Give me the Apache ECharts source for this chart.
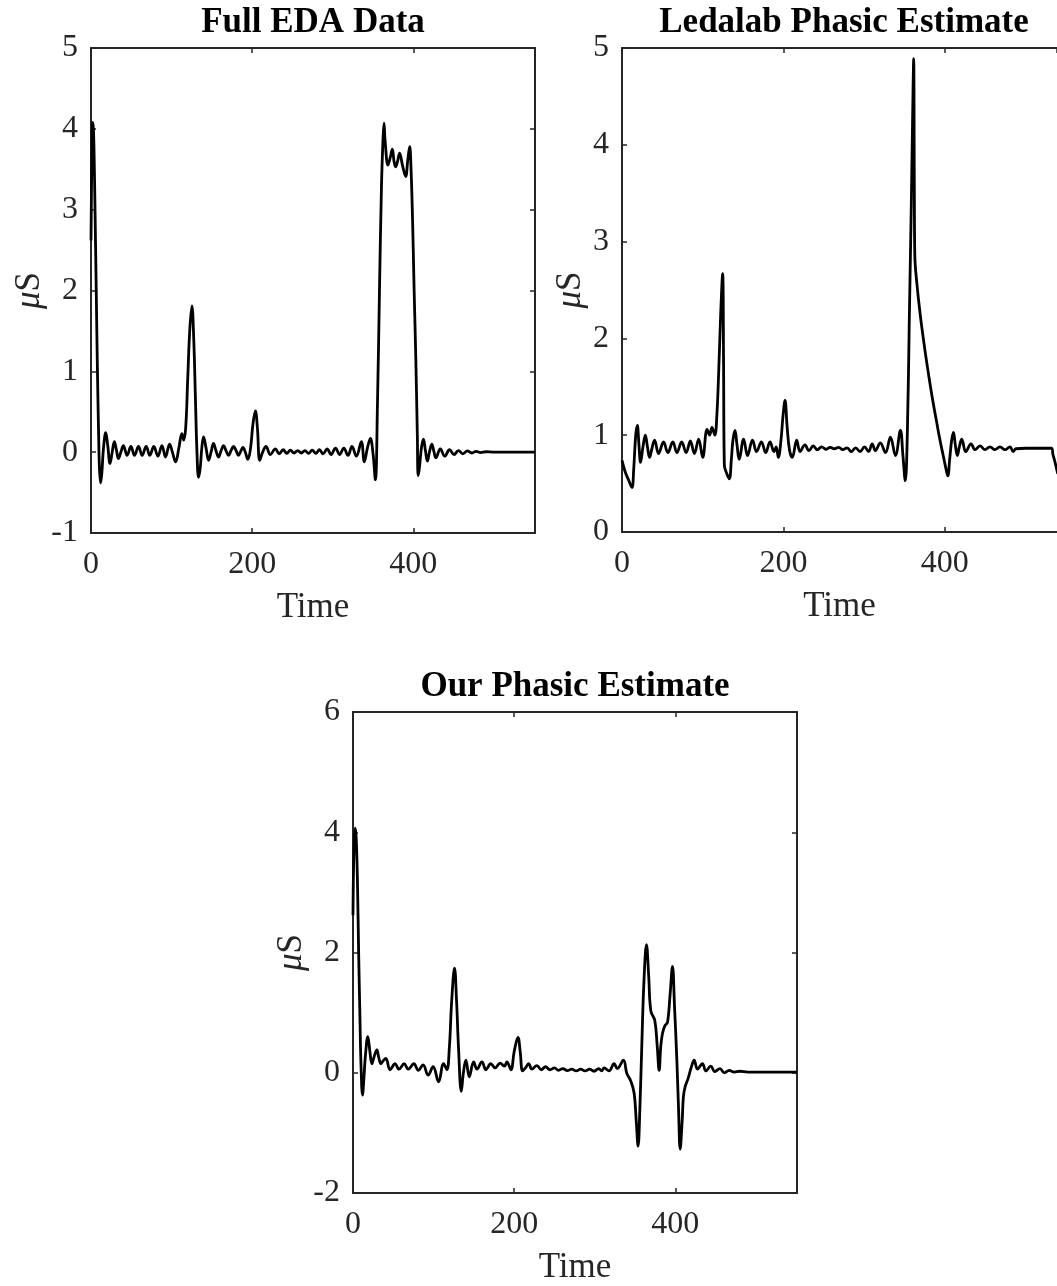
<!DOCTYPE html>
<html><head><meta charset="utf-8">
<script src="https://cdn.jsdelivr.net/npm/echarts@6/dist/echarts.min.js"></script>
<style>html,body{margin:0;padding:0;background:#fff}#c{width:1057px;height:1286px}</style>
</head><body><div id="c"></div>
<script>
// ---- data (time, µS) ----
const panelTitles = ['Full EDA Data', 'Ledalab Phasic Estimate', 'Our Phasic Estimate'];
const xTickValues = [0, 200, 400];
const yRange1 = [-1, 5, 1];
const yRange2 = [0, 5, 1];
const yRange3 = [-2, 6, 2];
const xMaxes = [551, 539, 551];   // panel 2 is cut off by the right edge of the figure

const fullEdaData = [[0,2.62],[1,3.6],[2,4.08],[3,4.0],[4,3.6],[5,3.0],[6.5,2.0],[8,1.0],[9.5,0.2],[10.5,-0.2],[12,-0.38],[13.5,-0.25],[15.5,0.05],[18.3,0.24],[20.8,0.08],[23.6,-0.14],[26.3,0.0],[29,0.13],[31.5,0.03],[34,-0.08],[37,0.0],[40.2,0.08],[44.8,-0.04],[49.5,0.07],[54,-0.04],[59,0.07],[63.5,-0.04],[68.5,0.07],[73,-0.04],[78,0.07],[83,-0.05],[88,0.08],[92.5,-0.06],[97.5,0.1],[101,0.0],[105,-0.12],[109,0.05],[112.8,0.23],[115,0.15],[117.5,0.3],[120,0.9],[122.5,1.5],[125.2,1.81],[127.5,1.4],[129.5,0.7],[131.5,0.0],[133.5,-0.31],[135.5,-0.2],[137.5,0.05],[139.7,0.19],[142.8,0.05],[145.9,-0.1],[149,0.0],[152,0.11],[155,0.02],[158.3,-0.06],[161.5,0.02],[164.5,0.08],[167.5,0.02],[170.7,-0.04],[173.8,0.02],[176.9,0.07],[180,0.02],[183,-0.04],[185.8,0.01],[188.5,0.06],[191.5,0.0],[194.7,-0.09],[198,0.05],[201,0.35],[204,0.51],[206.5,0.3],[209.4,-0.1],[213,0.0],[217.2,0.07],[222.6,-0.03],[228.8,0.04],[233.6,-0.02],[238.5,0.03],[243,-0.015],[247.5,0.025],[252,-0.01],[256.5,0.02],[261,-0.01],[265.5,0.02],[270,-0.015],[274.5,0.025],[279,-0.015],[283.5,0.03],[288,-0.02],[293,0.04],[298,-0.03],[303.4,0.05],[308.5,-0.03],[313.8,0.05],[318.9,-0.04],[323.9,0.07],[329.3,-0.05],[335.5,0.13],[339.2,-0.12],[343,0.05],[346.7,0.17],[349.8,0.0],[352.9,-0.34],[355.5,0.6],[358,2.0],[360.5,3.3],[362.5,3.9],[363.6,4.07],[365,3.85],[368.6,3.55],[371.5,3.65],[374,3.75],[376,3.6],[378,3.53],[380.5,3.6],[383,3.7],[386.5,3.55],[390.5,3.41],[393,3.6],[395.5,3.78],[397,3.55],[399,2.9],[401,2.0],[403,1.2],[405,0.2],[406,-0.29],[407.5,-0.2],[410,0.05],[412.5,0.16],[415,0.02],[417.5,-0.11],[420,0.0],[423,0.1],[425.5,0.01],[428,-0.07],[433.5,0.04],[439,-0.05],[445,0.03],[450.5,-0.03],[456,0.02],[461.5,-0.02],[467,0.015],[472.5,-0.01],[478,0.01],[483.5,-0.005],[490,0.005],[500,0],[551,0]];

const ledalabData = [[0,0.74],[4,0.62],[8,0.54],[12.3,0.46],[14.5,0.65],[17,1.0],[19,1.1],[21,0.9],[23,0.72],[26,0.88],[28.9,1.0],[31.5,0.88],[34.2,0.77],[37,0.86],[40.4,0.95],[45.3,0.81],[51.5,0.93],[56.8,0.82],[63,0.93],[68,0.82],[74,0.93],[79.5,0.82],[84.7,0.94],[89.7,0.81],[95,0.96],[100,0.77],[105.4,1.06],[108.5,1.0],[111.5,1.08],[115,1.0],[117.5,1.2],[120,1.7],[122.5,2.3],[124.7,2.67],[125.8,1.8],[126.8,0.69],[130,0.6],[133,0.55],[135.5,0.75],[137.5,0.95],[140,1.05],[142.5,0.9],[145.3,0.75],[150.7,0.96],[155.6,0.79],[161.7,0.95],[166.7,0.83],[172.8,0.93],[178,0.82],[183.4,0.93],[188.3,0.83],[191,0.88],[193.7,0.77],[197,0.95],[199.5,1.2],[202,1.36],[204.5,1.1],[207.5,0.85],[211,0.77],[216.5,0.95],[220.6,0.83],[226.7,0.9],[231.7,0.84],[237,0.89],[242,0.85],[247.5,0.88],[252.5,0.855],[258,0.875],[263,0.86],[268.5,0.875],[273.5,0.85],[279,0.87],[284,0.83],[289.5,0.87],[295,0.83],[300.5,0.88],[305.5,0.83],[310,0.91],[314,0.84],[320,0.92],[326.5,0.82],[332.6,0.98],[338.8,0.79],[345,1.05],[348,0.8],[351,0.53],[353.5,1.0],[356,2.2],[358.5,3.4],[360.5,4.5],[361.4,4.89],[362.2,3.6],[362.8,2.86],[365,2.6],[369.6,2.24],[375,1.9],[380,1.62],[385,1.36],[390,1.13],[394,0.95],[398,0.79],[401,0.67],[403.7,0.58],[406,0.75],[408.5,0.95],[410.7,1.03],[413,0.9],[415.6,0.79],[418,0.88],[421,0.96],[426,0.83],[432.5,0.91],[437.5,0.85],[443.6,0.89],[449.8,0.85],[456,0.88],[462,0.85],[468.3,0.88],[474.5,0.85],[480.6,0.88],[484.7,0.83],[488,0.86],[500,0.865],[520,0.865],[532,0.865],[534,0.8],[536.6,0.72],[540,0.6]];

const ourData = [[0,2.62],[1,3.6],[2.7,4.07],[4,3.9],[5.5,3.2],[7,2.0],[8.5,1.0],[10,0.1],[11.8,-0.37],[13.5,-0.1],[15.5,0.3],[18.4,0.6],[21,0.35],[23.4,0.15],[26.5,0.28],[29.6,0.38],[32,0.25],[34.6,0.15],[37.5,0.2],[40.8,0.24],[46,0.05],[52.2,0.15],[57,0.06],[63.6,0.15],[68.5,0.06],[75.5,0.15],[81,0.04],[87,0.13],[93.2,-0.04],[99.4,0.1],[106.2,-0.15],[112.4,0.15],[116.5,0.05],[119.5,0.4],[122.5,1.2],[126,1.74],[128.5,1.2],[131,0.4],[134.4,-0.31],[137,0.0],[140.1,0.21],[144.3,-0.07],[149.7,0.18],[153.8,0.06],[160,0.18],[165,0.05],[171,0.15],[176.4,0.08],[182.6,0.16],[188,0.11],[191,0.18],[196,0.05],[200,0.35],[204.7,0.59],[207.5,0.35],[210.5,0.03],[214,0.08],[218,0.15],[222,0.06],[228.2,0.12],[233.6,0.05],[239,0.1],[244.5,0.05],[250,0.08],[255,0.04],[260.5,0.07],[266,0.035],[271.5,0.06],[277,0.03],[282.5,0.06],[288,0.03],[293.5,0.06],[299,0.025],[305,0.07],[308.5,0.03],[311.6,0.08],[317.8,0.03],[324,0.15],[328,0.07],[335.6,0.21],[339.8,-0.01],[344.8,-0.14],[348.9,-0.34],[351.5,-0.8],[353.8,-1.22],[356,-0.6],[358.5,0.5],[361,1.5],[364.2,2.13],[367,1.6],[369.6,1.03],[374.5,0.87],[377.5,0.45],[379.9,0.04],[382,0.45],[384,0.65],[387,0.78],[390.3,0.84],[393.5,1.3],[396.5,1.77],[399,1.1],[401.9,0.21],[404,-0.6],[406,-1.27],[408.5,-0.8],[410,-0.4],[412.2,-0.23],[416,-0.09],[420,0.1],[423.4,0.21],[427.5,0.06],[433.7,0.15],[437.9,0.03],[444,0.11],[449,0.02],[455.4,0.07],[460.7,0.0],[467,0.04],[473,0.01],[480,0.025],[490,0.01],[551,0.01]];

// ---- chart ----
const FONT = '"Liberation Serif","Times New Roman",serif';
const AX = '#262626';
const grids = [
  {left: 91, top: 48, width: 444, height: 485},
  {left: 622, top: 48, width: 435, height: 484},
  {left: 353, top: 712, width: 444, height: 485}
];
const yRanges = [yRange1, yRange2, yRange3];
const nameGaps = [37, 34, 44];
const showRight = [true, false, true];
const datasets = [fullEdaData, ledalabData, ourData];

const xAxis = [], yAxis = [], series = [];
grids.forEach((g, i) => {
  const common = {
    gridIndex: i, type: 'value', min: 0, max: xMaxes[i], interval: 200,
    axisLine: {show: true, onZero: false, lineStyle: {color: AX, width: 2}},
    axisTick: {show: true, inside: true, length: 5, lineStyle: {color: AX, width: 1.5}},
    splitLine: {show: false}
  };
  xAxis.push(Object.assign({}, common, {
    position: 'bottom',
    name: 'Time', nameLocation: 'middle', nameGap: 57,
    nameTextStyle: {fontFamily: FONT, fontSize: 35, color: AX},
    axisLabel: {show: true, margin: 16, fontFamily: FONT, fontSize: 32, color: AX, showMaxLabel: false,
      formatter: v => (xTickValues.indexOf(v) >= 0 ? String(v) : '')}
  }));
  xAxis.push(Object.assign({}, common, {position: 'top', axisLabel: {show: false}}));
  const r = yRanges[i];
  const ycommon = {
    gridIndex: i, type: 'value', min: r[0], max: r[1], interval: r[2],
    axisLine: {show: true, onZero: false, lineStyle: {color: AX, width: 2}},
    axisTick: {show: true, inside: true, length: 5, lineStyle: {color: AX, width: 1.5}},
    splitLine: {show: false}
  };
  yAxis.push(Object.assign({}, ycommon, {
    position: 'left',
    name: '{i|μ}S', nameLocation: 'middle', nameGap: nameGaps[i],
    nameTextStyle: {fontFamily: FONT, fontSize: 35, color: AX,
      rich: {i: {fontFamily: FONT, fontSize: 35, fontStyle: 'italic', color: AX}}},
    axisLabel: {show: true, margin: 13, fontFamily: FONT, fontSize: 32, color: AX}
  }));
  yAxis.push(Object.assign({}, ycommon, {position: 'right', show: showRight[i], axisLabel: {show: false}}));
  series.push({
    type: 'line', xAxisIndex: i * 2, yAxisIndex: i * 2,
    data: datasets[i], showSymbol: false, smooth: 0.4,
    lineStyle: {color: '#000', width: 2.8}, silent: true, animation: false, clip: true
  });
});

const titleCenters = [[313, 23], [844, 23], [575, 687]];
const graphic = panelTitles.map((t, i) => ({
  type: 'text', x: titleCenters[i][0], y: titleCenters[i][1], silent: true,
  style: {text: t, font: 'bold 35px ' + FONT, fill: '#000', align: 'center', verticalAlign: 'middle'}
}));

const chart = echarts.init(document.getElementById('c'), null, {renderer: 'canvas'});
chart.setOption({
  backgroundColor: '#fff', animation: false,
  grid: grids.map(g => Object.assign({containLabel: false}, g)),
  xAxis, yAxis, series, graphic
});
</script></body></html>
